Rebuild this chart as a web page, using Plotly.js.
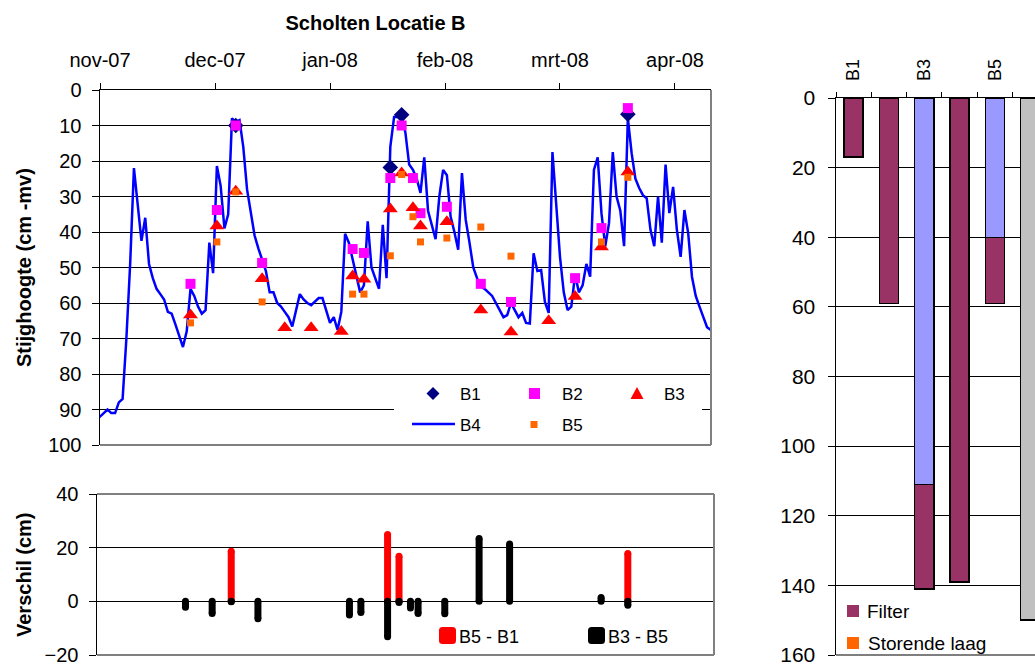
<!DOCTYPE html>
<html>
<head>
<meta charset="utf-8">
<script src="https://cdn.plot.ly/plotly-3.0.1.min.js"></script>
<style>
  html, body { margin: 0; padding: 0; background: #fff; }
  #chart { width: 1035px; height: 664px; }
</style>
</head>
<body>
<div id="chart"></div>
<script>
// Stijghoogtes peilbuizen Scholten, locatie B (winter 2007-2008)

// Month ticks on the time axis (one every 30.5 days from 1 Nov 2007)
const monthTickDates = ['2007-11-01', '2007-12-01 12:00', '2008-01-01', '2008-01-31 12:00', '2008-03-02', '2008-04-01 12:00'];
const monthTickLabels = ['nov-07', 'dec-07', 'jan-08', 'feb-08', 'mrt-08', 'apr-08'];

// B4: daily logger series starting 30 Oct 2007 (cm -mv)
const b4Start = '2007-10-30';
const b4Values = [
  91, 91.5, 92, 91, 90, 91, 91, 88, 87, 70, 49, 22, 32, 42.5, 36, 49, 53, 56, 57.5, 59,
  62.5, 63, 66, 69, 72.4, 68, 56, 58, 61, 63, 62, 43, 51.6, 21.4, 27, 39, 35, 8, 9, 8.5,
  16, 28, 35, 41, 44.6, 48, 51, 57, 57, 60, 61, 62.5, 64, 66.6, 62, 57.5, 59, 60, 60.6, 59.5,
  58.6, 58.6, 62, 65.6, 64, 67.6, 62.5, 40.5, 43, 48, 52, 57, 55, 37, 50, 53, 56, 38, 53, 16,
  7.6, 7.6, 7.3, 12, 21, 22.5, 25, 29, 19, 34, 38, 42, 30, 22.5, 24, 35.7, 40, 45, 23.4, 36.6,
  43, 50, 53, 55.4, 56, 57, 58, 60, 62, 64, 63.4, 60, 62, 64, 62.8, 65.6, 65.8, 46, 51, 50.7,
  59.7, 62.8, 17.5, 31.5, 47, 57, 62, 61, 52, 57, 55, 49, 52.6, 22.5, 19, 34.7, 44, 37.5, 17.5, 30,
  34, 44, 8, 17.8, 25, 27.6, 29.6, 30.5, 39.4, 44, 30, 43, 21, 34.7, 27.3, 39.4, 47, 33.8, 40.3, 52.6,
  58, 61, 64, 66.8, 67.6, 71.3, 61.4
];

// Hand readings (cm -mv)
const b1Dates = ['2007-12-07', '2008-01-17', '2008-01-20', '2008-03-20'];
const b1Values = [10, 21.8, 7, 6.8];

const b2Dates = ['2007-11-25', '2007-12-02', '2007-12-07', '2007-12-14', '2008-01-07', '2008-01-10', '2008-01-17', '2008-01-20',
                 '2008-01-23', '2008-01-25', '2008-02-01', '2008-02-10', '2008-02-18', '2008-03-06', '2008-03-13', '2008-03-20'];
const b2Values = [54.6, 33.8, 10, 48.7, 44.8, 45.9, 24.8, 10, 24.8, 34.7, 32.9, 54.6, 59.7, 53, 38.9, 5.1];

const b3Dates = ['2007-11-25', '2007-12-02', '2007-12-07', '2007-12-14', '2007-12-20', '2007-12-27', '2008-01-04', '2008-01-07',
                 '2008-01-10', '2008-01-17', '2008-01-20', '2008-01-23', '2008-01-25', '2008-02-01', '2008-02-10', '2008-02-18',
                 '2008-02-28', '2008-03-06', '2008-03-13', '2008-03-20'];
const b3Values = [63.4, 38.3, 28.5, 53.2, 67, 67, 68, 52.4, 53.3, 33.5, 23.4, 33.2, 38.3, 37.1, 62, 68.2, 65, 58.2, 44.2, 23.1];

const b5Dates = ['2007-11-25', '2007-12-02', '2007-12-07', '2007-12-14', '2008-01-07', '2008-01-10', '2008-01-17', '2008-01-20',
                 '2008-01-23', '2008-01-25', '2008-02-01', '2008-02-10', '2008-02-18', '2008-03-13', '2008-03-20'];
const b5Values = [65.6, 42.8, 28.7, 59.7, 57.5, 57.5, 46.7, 23.8, 35.7, 42.8, 41.7, 38.6, 46.8, 42.8, 24.6];

// Filter profile per peilbuis (cm -mv, stacked from maaiveld down)
const wellNames = ['B1', 'B2', 'B3', 'B4', 'B5', 'B6'];
const blindPipe = [null, null, 111, null, 40, null];
const filterLength = [17, 59, 30, 139, 19, null];
const disturbingLayer = [null, null, null, null, null, null];
const otherPipe = [null, null, null, null, null, 150];

// ---------------------------------------------------------------
const W = 1035, H = 664;
const FONT = 'Liberation Sans, Arial, Helvetica, sans-serif';
const X = px => px / W;          // pixel -> paper x
const Y = py => 1 - py / H;      // pixel -> paper y

function addDays(start, n) {
  const d = new Date(start + 'T00:00:00Z');
  d.setUTCDate(d.getUTCDate() + n);
  return d.toISOString().slice(0, 10);
}
const b4Dates = b4Values.map((_, i) => addDays(b4Start, i));

// Differences between two wells on the dates both were read, as vertical sticks from 0
function diffSticks(aDates, aVals, bDates, bVals) {
  const x = [], y = [];
  aDates.forEach((d, i) => {
    const j = bDates.indexOf(d);
    if (j >= 0) {
      x.push(d, d, null);
      y.push(0, +(aVals[i] - bVals[j]).toFixed(1), null);
    }
  });
  return { x, y };
}
const d51 = diffSticks(b5Dates, b5Values, b1Dates, b1Values);
const d35 = diffSticks(b3Dates, b3Values, b5Dates, b5Values);

const traces = [
  { type: 'scatter', mode: 'lines', name: 'B4', x: b4Dates, y: b4Values, xaxis: 'x', yaxis: 'y',
    line: { color: '#0000FF', width: 2.5 } },
  { type: 'scatter', mode: 'markers', name: 'B1', x: b1Dates, y: b1Values, xaxis: 'x', yaxis: 'y', cliponaxis: false,
    marker: { symbol: 'diamond', size: 12, color: '#000080' } },
  { type: 'scatter', mode: 'markers', name: 'B2', x: b2Dates, y: b2Values, xaxis: 'x', yaxis: 'y', cliponaxis: false,
    marker: { symbol: 'square', size: 10, color: '#FF00FF' } },
  { type: 'scatter', mode: 'markers', name: 'B3', x: b3Dates, y: b3Values, xaxis: 'x', yaxis: 'y', cliponaxis: false,
    marker: { symbol: 'triangle-up', size: 13, color: '#FF0000' } },
  { type: 'scatter', mode: 'markers', name: 'B5', x: b5Dates, y: b5Values, xaxis: 'x', yaxis: 'y', cliponaxis: false,
    marker: { symbol: 'square', size: 7, color: '#FF6600' } },

  { type: 'scatter', mode: 'lines+markers', name: 'B5 - B1', x: d51.x, y: d51.y, xaxis: 'x2', yaxis: 'y2',
    line: { color: '#FF0000', width: 7 }, marker: { color: '#FF0000', size: 7 } },
  { type: 'scatter', mode: 'lines+markers', name: 'B3 - B5', x: d35.x, y: d35.y, xaxis: 'x2', yaxis: 'y2',
    line: { color: '#000000', width: 7 }, marker: { color: '#000000', size: 7 } },

  { type: 'bar', name: 'Blind', x: wellNames, y: blindPipe, xaxis: 'x3', yaxis: 'y3', width: 0.54,
    marker: { color: '#9999FF', line: { color: '#000', width: 1.5 } } },
  { type: 'bar', name: 'Filter', x: wellNames, y: filterLength, xaxis: 'x3', yaxis: 'y3', width: 0.54,
    marker: { color: '#993366', line: { color: '#000', width: 1.5 } } },
  { type: 'bar', name: 'Storende laag', x: wellNames, y: disturbingLayer, xaxis: 'x3', yaxis: 'y3', width: 0.54,
    marker: { color: '#FF6600', line: { color: '#000', width: 1.5 } } },
  { type: 'bar', name: 'Overig', x: wellNames, y: otherPipe, xaxis: 'x3', yaxis: 'y3', width: 0.54,
    marker: { color: '#C0C0C0', line: { color: '#000', width: 1.5 } } },
  // carries the category boundary ticks of the profile chart
  { type: 'scatter', mode: 'markers', x: [], y: [], xaxis: 'x4', yaxis: 'y3', showlegend: false, hoverinfo: 'skip' }
];

const GRAY = '#808080';
function hline(x0, x1, y, color, w) {
  return { type: 'line', xref: 'paper', yref: 'paper', x0: X(x0), x1: X(x1), y0: Y(y), y1: Y(y),
           line: { color, width: w }, layer: 'above' };
}
function vline(x, y0, y1, color, w) {
  return { type: 'line', xref: 'paper', yref: 'paper', x0: X(x), x1: X(x), y0: Y(y0), y1: Y(y1),
           line: { color, width: w }, layer: 'above' };
}
function rect(x0, y0, x1, y1, fill, lineColor) {
  return { type: 'rect', xref: 'paper', yref: 'paper', x0: X(x0), x1: X(x1), y0: Y(y1), y1: Y(y0),
           fillcolor: fill, line: { width: lineColor ? 1 : 0, color: lineColor || fill }, layer: 'above' };
}
function pathShape(pts, fill) {
  const d = pts.map((p, i) => (i ? 'L' : 'M') + X(p[0]).toFixed(5) + ',' + Y(p[1]).toFixed(5)).join(' ') + ' Z';
  return { type: 'path', xref: 'paper', yref: 'paper', path: d, fillcolor: fill, line: { width: 0 }, layer: 'above' };
}
function roundSquare(x0, y0, s, r, fill) {
  const x1 = x0 + s, y1 = y0 + s;
  const P = (x, y) => X(x).toFixed(5) + ',' + Y(y).toFixed(5);
  const d = 'M' + P(x0 + r, y0) + ' L' + P(x1 - r, y0) + ' Q' + P(x1, y0) + ' ' + P(x1, y0 + r) +
            ' L' + P(x1, y1 - r) + ' Q' + P(x1, y1) + ' ' + P(x1 - r, y1) +
            ' L' + P(x0 + r, y1) + ' Q' + P(x0, y1) + ' ' + P(x0, y1 - r) +
            ' L' + P(x0, y0 + r) + ' Q' + P(x0, y0) + ' ' + P(x0 + r, y0) + ' Z';
  return { type: 'path', xref: 'paper', yref: 'paper', path: d, fillcolor: fill, line: { width: 0 }, layer: 'above' };
}

const shapes = [
  // plot-area frames
  hline(100, 711, 445, GRAY, 2), vline(711, 90, 445, GRAY, 2),
  hline(97, 714, 494, GRAY, 2), hline(97, 714, 655, GRAY, 2), vline(714, 494, 655, GRAY, 2),
  hline(836, 1035, 655, '#000', 1.2),
  // legend of the level chart
  rect(394, 379, 702, 441, '#FFFFFF'),
  pathShape([[426.5, 393.5], [433, 387], [439.5, 393.5], [433, 400]], '#000080'),
  rect(529, 388, 540, 399, '#FF00FF'),
  pathShape([[637, 387], [643.5, 399], [630.5, 399]], '#FF0000'),
  hline(412, 455, 424, '#0000FF', 2.5),
  rect(530.5, 421, 537.5, 428, '#FF6600'),
  // legend of the difference chart
  roundSquare(439, 627, 17, 3.5, '#FF0000'),
  roundSquare(588, 627, 17, 3.5, '#000000'),
  // legend of the profile chart
  rect(847, 605, 859, 617, '#993366'),
  rect(847, 637, 859, 649, '#FF6600')
];

function label(text, x, y, size, extra) {
  return Object.assign({ text, xref: 'paper', yref: 'paper', x: X(x), y: Y(y), xanchor: 'left', yanchor: 'middle',
                         showarrow: false, font: { family: FONT, size, color: '#000' } }, extra || {});
}

const annotations = [
  label('<b>Stijghoogte (cm -mv)</b>', 24, 268, 20, { xanchor: 'center', textangle: -90 }),
  label('<b>Verschil (cm)</b>', 24, 575, 20, { xanchor: 'center', textangle: -90 }),
  label('B1', 458, 394, 17), label('B2', 560, 394, 17), label('B3', 662, 394, 17),
  label('B4', 458, 425, 17), label('B5', 560, 425, 17),
  label('B5 - B1', 457, 637, 18), label('B3 - B5', 606, 637, 18),
  label('Filter', 865, 611, 19), label('Storende laag', 866, 643, 19)
];

const axisCommon = {
  tickcolor: '#000', showline: true, linecolor: '#000', linewidth: 1.5, zeroline: false,
  ticklabeloverflow: 'allow',
  tickfont: { family: FONT, size: 20, color: '#000' }
};

const layout = {
  width: W, height: H,
  margin: { l: 0, r: 0, t: 0, b: 0 },
  paper_bgcolor: '#FFFFFF', plot_bgcolor: 'rgba(0,0,0,0)',
  font: { family: FONT, color: '#000', size: 20 },
  showlegend: false,
  barmode: 'stack',
  title: { text: '<b>Scholten Locatie B</b>', x: X(375.5), xanchor: 'center', xref: 'paper',
           y: Y(22.5), yanchor: 'middle', yref: 'paper', font: { family: FONT, size: 20, color: '#000' } },

  xaxis: Object.assign({}, axisCommon, {
    domain: [X(100), X(711)], anchor: 'y', side: 'top', type: 'date',
    range: ['2007-11-01', '2008-04-11 01:12'],
    tickmode: 'array', tickvals: monthTickDates, ticktext: monthTickLabels,
    ticks: 'outside', ticklen: 6, showgrid: false, ticklabelstandoff: 8
  }),
  yaxis: Object.assign({}, axisCommon, {
    domain: [Y(445), Y(90)], anchor: 'x', range: [100, 0], tick0: 0, dtick: 10,
    ticks: 'outside', ticklen: 7, showgrid: true, gridcolor: '#000', gridwidth: 1, ticklabelstandoff: 6
  }),

  xaxis2: {
    domain: [X(97), X(714)], anchor: 'y2', type: 'date',
    range: ['2007-11-01 19:12', '2008-04-11 14:24'],
    showticklabels: false, ticks: '', showgrid: false, zeroline: false, showline: false
  },
  yaxis2: Object.assign({}, axisCommon, {
    domain: [Y(655), Y(494)], anchor: 'x2', range: [-20, 40], tick0: 0, dtick: 20,
    ticks: 'outside', ticklen: 7, showgrid: true, gridcolor: '#000', gridwidth: 1, ticklabelstandoff: 6
  }),

  xaxis3: {
    domain: [X(836), 1], anchor: 'y3', side: 'top', type: 'category',
    range: [-0.5, -0.5 + 199 / 35.3],
    tickmode: 'array', tickvals: [0, 2, 4], ticktext: [wellNames[0], wellNames[2], wellNames[4]],
    tickangle: -90, ticks: '', showgrid: false, zeroline: false,
    showline: true, linecolor: '#000', linewidth: 1.5,
    tickfont: { family: FONT, size: 18, color: '#000' }, ticklabelstandoff: 12
  },
  xaxis4: {
    overlaying: 'x3', anchor: 'y3', side: 'top', type: 'linear',
    range: [-0.5, -0.5 + 199 / 35.3],
    tickmode: 'array', tickvals: [-0.5, 0.5, 1.5, 2.5, 3.5, 4.5],
    ticks: 'outside', ticklen: 5, tickcolor: '#000', showticklabels: false,
    showgrid: false, zeroline: false, showline: false
  },
  yaxis3: Object.assign({}, axisCommon, {
    domain: [Y(655), Y(98)], anchor: 'x3', range: [160, 0], tick0: 0, dtick: 20,
    ticks: 'outside', ticklen: 7, showgrid: true, gridcolor: '#000', gridwidth: 1,
    tickfont: { family: FONT, size: 21, color: '#000' }, ticklabelstandoff: 8
  }),

  shapes,
  annotations
};

Plotly.newPlot('chart', traces, layout, { staticPlot: true, displayModeBar: false });
</script>
</body>
</html>
